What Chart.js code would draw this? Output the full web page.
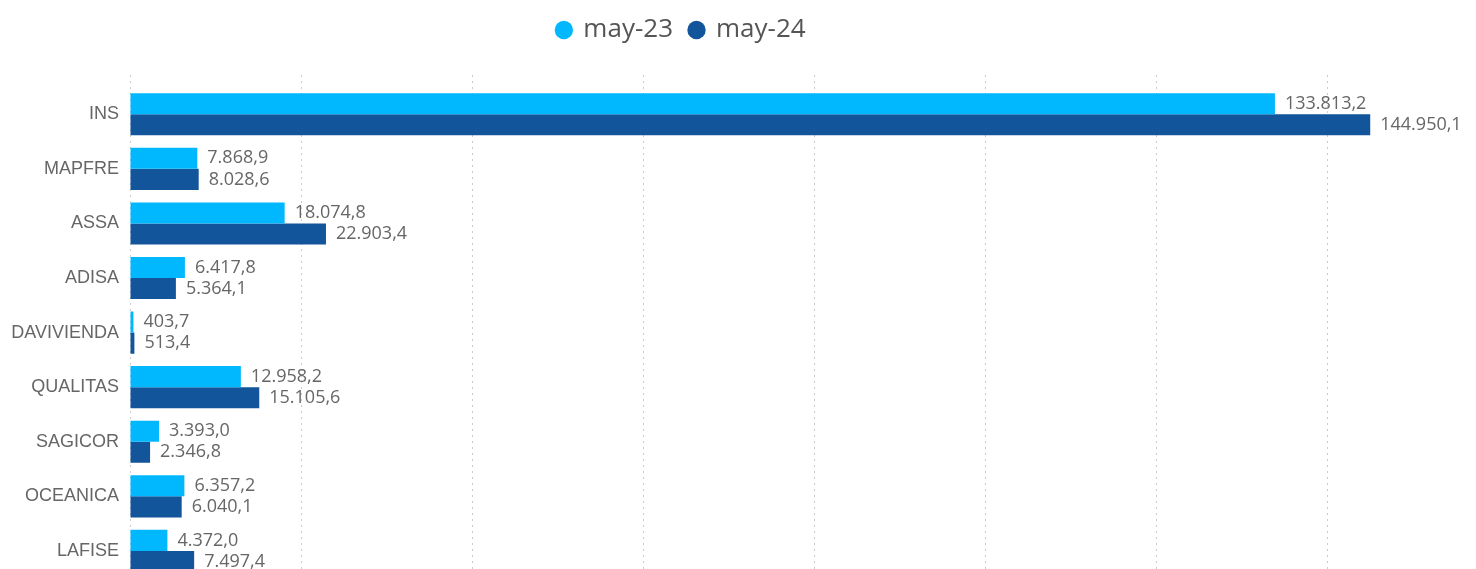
<!DOCTYPE html>
<html>
<head>
<meta charset="utf-8">
<script src="https://cdn.jsdelivr.net/npm/chart.js@4/dist/chart.umd.min.js"></script>
<style>
html,body{margin:0;padding:0;background:#fff;overflow:hidden;}
#wrap{width:1510px;height:592px;}
</style>
</head>
<body>
<div id="wrap"><canvas id="c" width="1510" height="592"></canvas></div>
<script>
const categories = ['INS','MAPFRE','ASSA','ADISA','DAVIVIENDA','QUALITAS','SAGICOR','OCEANICA','LAFISE'];
const seriesNames = ['may-23','may-24'];
const may23 = [133813.2, 7868.9, 18074.8, 6417.8, 403.7, 12958.2, 3393.0, 6357.2, 4372.0];
const may24 = [144950.1, 8028.6, 22903.4, 5364.1, 513.4, 15105.6, 2346.8, 6040.1, 7497.4];

function fmt(v){
  const parts = v.toFixed(1).split('.');
  return parts[0].replace(/\B(?=(\d{3})+(?!\d))/g, '.') + ',' + parts[1];
}

const valueLabels = {
  id: 'valueLabels',
  afterDatasetsDraw(chart){
    const ctx = chart.ctx;
    ctx.save();
    ctx.font = '18px "Open Sans"';
    ctx.fillStyle = '#666666';
    ctx.textBaseline = 'middle';
    ctx.textAlign = 'left';
    chart.data.datasets.forEach((ds, di) => {
      const meta = chart.getDatasetMeta(di);
      meta.data.forEach((el, i) => {
        ctx.fillText(fmt(ds.data[i]), el.x + 10, el.y);
      });
    });
    ctx.restore();
  }
};

const legendTweak = {
  id: 'legendTweak',
  beforeInit(chart){
    const lg = chart.legend;
    const origFit = lg.fit;
    lg.fit = function(){
      origFit.bind(this)();
      this.height = 75;
    };
    const origDraw = lg.draw;
    lg.draw = function(){
      const ctx = chart.ctx;
      ctx.save();
      ctx.translate(-68, 0);
      origDraw.apply(this, arguments);
      ctx.restore();
    };
  }
};

new Chart(document.getElementById('c'), {
  type: 'bar',
  data: {
    labels: categories,
    datasets: [
      {label: seriesNames[0], data: may23, backgroundColor: '#01B8FF', categoryPercentage: 0.772, barPercentage: 1},
      {label: seriesNames[1], data: may24, backgroundColor: '#12559A', categoryPercentage: 0.772, barPercentage: 1}
    ]
  },
  options: {
    indexAxis: 'y',
    responsive: false,
    animation: false,
    layout: {padding: {top: 0, right: 11, bottom: 0, left: 0}},
    plugins: {
      legend: {
        position: 'top',
        align: 'center',
        labels: {
          usePointStyle: true,
          pointStyle: 'circle',
          boxWidth: 13,
          boxHeight: 13,
          padding: 17,
          color: '#555555',
          font: {family: '"Open Sans"', size: 26}
        }
      },
      tooltip: {enabled: false}
    },
    scales: {
      x: {
        position: 'top',
        min: 0,
        max: 160000,
        ticks: {display: false, stepSize: 20000},
        grid: {
          color: '#cccccc',
          borderDash: [2, 4],
          drawTicks: true,
          tickLength: 12,
          tickBorderDash: [2, 4],
          tickColor: '#cccccc'
        },
        border: {display: false, dash: [2, 4]},
        afterFit(s){ s.height = 12; }
      },
      y: {
        offset: true,
        grid: {display: false},
        border: {display: false},
        ticks: {
          color: '#666666',
          padding: 3,
          font: {family: '"Liberation Sans", Arial', size: 18}
        },
        afterFit(s){ s.width = 130; }
      }
    }
  },
  plugins: [valueLabels, legendTweak]
});
</script>
</body>
</html>
